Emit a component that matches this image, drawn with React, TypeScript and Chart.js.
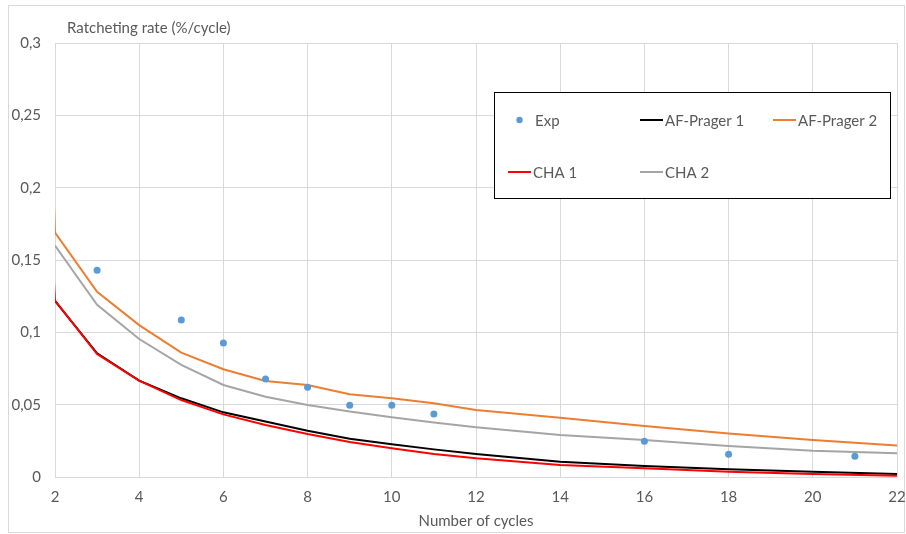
import React, { useEffect, useRef } from "react";
import { Chart, registerables } from "chart.js";

Chart.register(...registerables);

// Cycle numbers for the simulated curves
const cycles = [1, 2, 3, 4, 5, 6, 7, 8, 9, 10, 11, 12, 14, 16, 18, 20, 22];
const cyclesFrom2 = [2, 3, 4, 5, 6, 7, 8, 9, 10, 11, 12, 14, 16, 18, 20, 22];

// Experimental ratcheting rate (%/cycle)
const expCycles = [3, 5, 6, 7, 8, 9, 10, 11, 16, 18, 21];
const expRate = [0.143, 0.1086, 0.0927, 0.0678, 0.062, 0.0496, 0.0496, 0.0436, 0.0247, 0.0157, 0.0143];

// Model predictions
const afPrager1 = [0.1217, 0.0855, 0.0666, 0.0544, 0.0447, 0.0383, 0.032, 0.0265, 0.0226, 0.0191, 0.0159, 0.0106, 0.0076, 0.0053, 0.0037, 0.0021];
const afPrager2 = [0.9, 0.169, 0.128, 0.105, 0.086, 0.0745, 0.0664, 0.0636, 0.0572, 0.0544, 0.051, 0.0463, 0.041, 0.0353, 0.03, 0.0256, 0.0217];
const cha1 = [0.65, 0.122, 0.085, 0.0666, 0.0532, 0.0433, 0.036, 0.0297, 0.0242, 0.0198, 0.0159, 0.0129, 0.0083, 0.006, 0.0037, 0.0021, 0.0009];
const cha2 = [0.16, 0.119, 0.0954, 0.0775, 0.0636, 0.0555, 0.0498, 0.0452, 0.0413, 0.0376, 0.0344, 0.029, 0.0256, 0.0214, 0.0182, 0.0164];

const yTicks = [0, 0.05, 0.1, 0.15, 0.2, 0.25, 0.3];
const yTickLabels = ["0", "0,05", "0,1", "0,15", "0,2", "0,25", "0,3"];
const xTicks = [2, 4, 6, 8, 10, 12, 14, 16, 18, 20, 22];

const yTitle = "Ratcheting rate (%/cycle)";
const xTitle = "Number of cycles";

const FONT = "Lato, 'Open Sans', sans-serif";
const FONT_SIZE = 15;
const TEXT = "#595959";
const GRID = "#d9d9d9";

const pts = (xs: number[], ys: number[]) => xs.map((x, i) => ({ x, y: ys[i] }));

type LegendItem = { label: string; color: string; kind: "dot" | "line"; col: number; row: number };
const legendItems: LegendItem[] = [
  { label: "Exp", color: "#5B9BD5", kind: "dot", col: 0, row: 0 },
  { label: "AF-Prager 1", color: "#000000", kind: "line", col: 1, row: 0 },
  { label: "AF-Prager 2", color: "#ED7D31", kind: "line", col: 2, row: 0 },
  { label: "CHA 1", color: "#FF0000", kind: "line", col: 0, row: 1 },
  { label: "CHA 2", color: "#A5A5A5", kind: "line", col: 1, row: 1 },
];

const decorPlugin = {
  id: "decor",
  beforeDraw(chart: any) {
    const ctx = chart.ctx;
    ctx.save();
    ctx.fillStyle = "#ffffff";
    ctx.fillRect(0, 0, chart.width, chart.height);
    ctx.strokeStyle = "#d9d9d9";
    ctx.lineWidth = 1;
    ctx.strokeRect(8.5, 5.5, 896, 527);
    ctx.restore();
  },
  afterDraw(chart: any) {
    const ctx = chart.ctx;
    const area = chart.chartArea;
    ctx.save();
    ctx.font = `${FONT_SIZE}px ${FONT}`;
    ctx.fillStyle = TEXT;
    ctx.textBaseline = "middle";
    ctx.textAlign = "left";
    ctx.fillText(yTitle, area.left + 12, 28);
    ctx.textAlign = "center";
    ctx.fillText(xTitle, (area.left + area.right) / 2, 521);

    // legend box
    const bx = 494.5, by = 92.5, bw = 396, bh = 106;
    ctx.fillStyle = "#ffffff";
    ctx.fillRect(bx, by, bw, bh);
    ctx.strokeStyle = "#000000";
    ctx.lineWidth = 1;
    ctx.strokeRect(bx, by, bw, bh);
    const colX = [508, 640, 773];
    const rowY = [120, 172];
    ctx.textAlign = "left";
    for (const it of legendItems) {
      const x = colX[it.col];
      const y = rowY[it.row];
      if (it.kind === "dot") {
        ctx.fillStyle = it.color;
        ctx.beginPath();
        ctx.arc(x + 11.5, y, 3.2, 0, Math.PI * 2);
        ctx.fill();
      } else {
        ctx.strokeStyle = it.color;
        ctx.lineWidth = 2;
        ctx.beginPath();
        ctx.moveTo(x, y);
        ctx.lineTo(x + 23, y);
        ctx.stroke();
      }
      ctx.fillStyle = TEXT;
      ctx.fillText(it.label, x + (it.kind === "dot" ? 27 : 25), y + 1);
    }
    ctx.restore();
  },
};

export default function App() {
  const ref = useRef<HTMLCanvasElement | null>(null);

  useEffect(() => {
    if (!ref.current) return;
    const line = (label: string, xs: number[], ys: number[], color: string, order: number) => ({
      type: "line" as const,
      label,
      data: pts(xs, ys),
      borderColor: color,
      backgroundColor: color,
      borderWidth: 2,
      pointRadius: 0,
      showLine: true,
      tension: 0,
      fill: false,
      order,
    });

    const chart = new Chart(ref.current, {
      type: "scatter",
      data: {
        datasets: [
          {
            label: "Exp",
            data: pts(expCycles, expRate),
            backgroundColor: "#5B9BD5",
            borderColor: "#5B9BD5",
            pointRadius: 3.5,
            pointBorderWidth: 0,
            showLine: false,
            order: 0,
          } as any,
          line("CHA 2", cyclesFrom2, cha2, "#A5A5A5", 1),
          line("CHA 1", cycles, cha1, "#FF0000", 2),
          line("AF-Prager 2", cycles, afPrager2, "#ED7D31", 3),
          line("AF-Prager 1", cyclesFrom2, afPrager1, "#000000", 4),
        ],
      },
      options: {
        responsive: false,
        animation: false,
        layout: { padding: { top: 43, right: 9, left: 0, bottom: 0 } },
        plugins: {
          legend: { display: false },
          tooltip: { enabled: false },
          title: { display: false },
        },
        scales: {
          x: {
            type: "linear",
            min: 2,
            max: 22,
            afterBuildTicks: (s: any) => {
              s.ticks = xTicks.map((v) => ({ value: v }));
            },
            afterFit: (s: any) => {
              s.height = 57;
              s.paddingLeft = 0;
              s.paddingRight = 0;
            },
            grid: { color: GRID, lineWidth: 1, drawTicks: false },
            border: { color: GRID, width: 1 },
            ticks: {
              color: TEXT,
              font: { family: FONT, size: FONT_SIZE },
              padding: 11,
              maxRotation: 0,
              autoSkip: false,
            },
          },
          y: {
            type: "linear",
            min: 0,
            max: 0.3,
            afterBuildTicks: (s: any) => {
              s.ticks = yTicks.map((v) => ({ value: v }));
            },
            afterFit: (s: any) => {
              s.width = 55;
              s.paddingTop = 0;
              s.paddingBottom = 0;
            },
            grid: { color: GRID, lineWidth: 1, drawTicks: false },
            border: { display: false },
            ticks: {
              color: TEXT,
              font: { family: FONT, size: FONT_SIZE },
              padding: 14,
              callback: (v: any) => {
                const i = yTicks.findIndex((t) => Math.abs(t - Number(v)) < 1e-9);
                return i >= 0 ? yTickLabels[i] : "";
              },
            },
          },
        },
      },
      plugins: [decorPlugin],
    } as any);
    return () => chart.destroy();
  }, []);

  return (
    <div style={{ position: "absolute", left: 0, top: 0, width: 906, height: 534 }}>
      <canvas ref={ref} width={906} height={534} style={{ width: 906, height: 534, display: "block" }} />
    </div>
  );
}
